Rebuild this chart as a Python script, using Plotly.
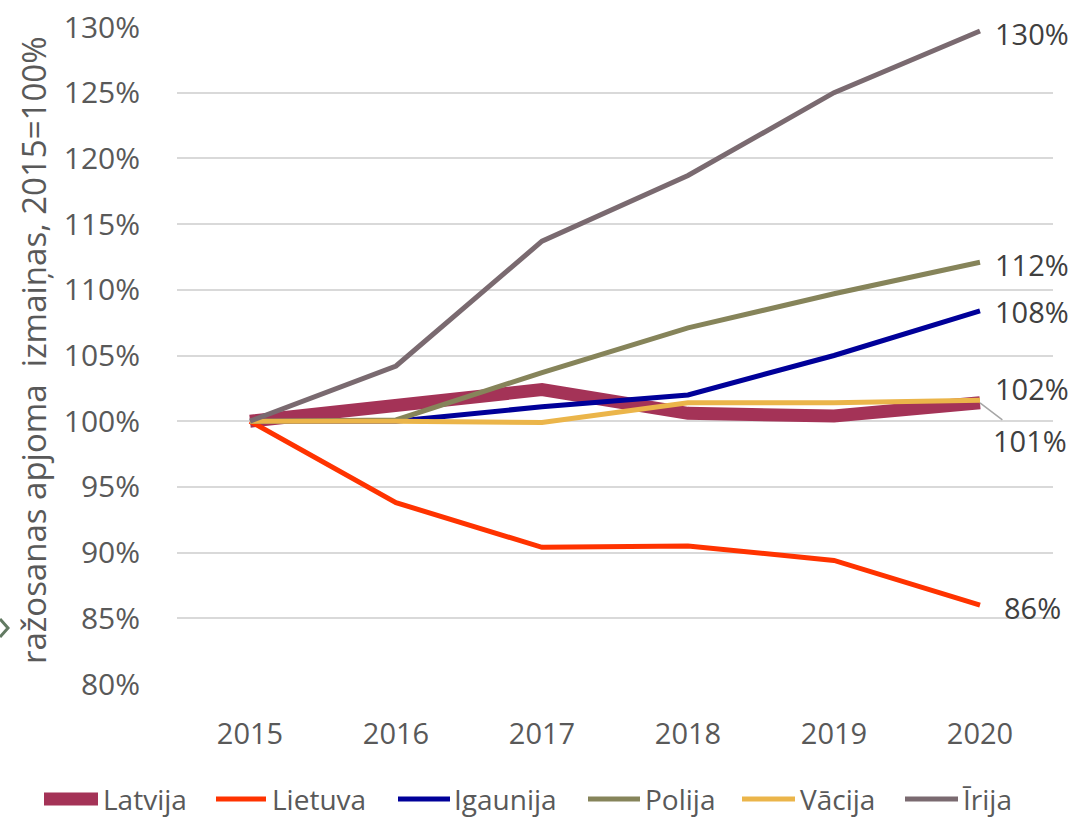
import plotly.graph_objects as go

years = ["2015", "2016", "2017", "2018", "2019", "2020"]
latvija = [100.0, 101.1, 102.4, 100.6, 100.4, 101.4]
lietuva = [100.0, 93.8, 90.4, 90.5, 89.4, 86.0]
igaunija = [100.0, 100.0, 101.1, 102.0, 105.0, 108.4]
polija = [100.0, 100.1, 103.7, 107.1, 109.7, 112.1]
vacija = [100.0, 100.0, 99.9, 101.4, 101.4, 101.6]
irija = [100.0, 104.2, 113.7, 118.7, 125.0, 129.7]

series = [
    ("Latvija", latvija, "#a43357", 13),
    ("Lietuva", lietuva, "#ff3300", 5),
    ("Igaunija", igaunija, "#000099", 5),
    ("Polija", polija, "#86845a", 5),
    ("Vācija", vacija, "#ebb54a", 5),
    ("Īrija", irija, "#7a6a70", 5),
]

FONT = "Open Sans"
ML, MR, MT, MB = 177, 28, 27, 135
W, H = 1081, 819
PW, PH = W - ML - MR, H - MT - MB


def px(x, y):
    """pixel -> paper coordinates (for decorations / legend layout)"""
    return (x - ML) / PW, (H - MB - y) / PH


fig = go.Figure()
for name, vals, color, w in series:
    fig.add_trace(go.Scatter(
        x=years, y=vals, name=name, mode="lines",
        line=dict(color=color, width=w),
        hoverinfo="skip", showlegend=False,
    ))

last = len(years) - 1
# end-of-line data labels
label_series = [(irija, -3), (polija, -2), (igaunija, -1), (vacija, 12), (lietuva, -2)]
for vals, ys in label_series:
    fig.add_annotation(x=last, y=vals[-1], text=f"{round(vals[-1])}%",
                       showarrow=False, xanchor="center", yanchor="middle",
                       xshift=52, yshift=ys,
                       font=dict(family=FONT, size=29, color="#404040"))
fig.add_annotation(x=last, y=latvija[-1], text=f"{round(latvija[-1])}%",
                   showarrow=True, arrowhead=0, arrowwidth=1.5, arrowcolor="#a6a6a6",
                   ax=50, ay=38, xanchor="center", yanchor="middle",
                   font=dict(family=FONT, size=29, color="#404040"))

# y axis title
tx, ty = px(33, 351)
fig.add_annotation(xref="paper", yref="paper", x=tx, y=ty,
                   text="ražosanas apjoma  izmaiņas, 2015=100%", textangle=-90,
                   showarrow=False, xanchor="center", yanchor="middle",
                   font=dict(family=FONT, size=33, color="#595959"))

# small chevron decoration at left edge
p1, p2, p3 = px(0, 619), px(8, 628), px(0, 637)
fig.add_shape(type="path", xref="paper", yref="paper",
              path=f"M{p1[0]},{p1[1]} L{p2[0]},{p2[1]} L{p3[0]},{p3[1]}",
              line=dict(color="#627a62", width=3))

# manual legend (symbol start/end x, text start x) in pixels
legend_pos = [(44, 98, 101), (216, 266, 270), (398, 450, 452),
              (588, 640, 643), (742, 795, 798), (905, 958, 960)]
LEG_Y = 799
for (name, vals, color, w), (x0, x1, xt) in zip(series, legend_pos):
    a, yy = px(x0, LEG_Y)
    b, _ = px(x1, LEG_Y)
    fig.add_shape(type="line", xref="paper", yref="paper", x0=a, x1=b, y0=yy, y1=yy,
                  line=dict(color=color, width=w))
    t, _ = px(xt, LEG_Y)
    fig.add_annotation(xref="paper", yref="paper", x=t, y=yy, text=name,
                       showarrow=False, xanchor="left", yanchor="middle",
                       font=dict(family=FONT, size=28, color="#595959"))

fig.update_layout(
    width=W, height=H,
    margin=dict(l=ML, r=MR, t=MT, b=MB),
    paper_bgcolor="white", plot_bgcolor="white",
    font=dict(family=FONT, color="#595959"),
    showlegend=False,
    xaxis=dict(type="category", range=[-0.5, 5.5], showgrid=False, zeroline=False,
               showline=False, ticks="", ticklabelstandoff=30, automargin=False,
               tickfont=dict(family=FONT, size=29, color="#595959")),
    yaxis=dict(range=[80, 130], dtick=5, tick0=80, ticksuffix="%",
               showgrid=True, gridcolor="#d9d9d9", gridwidth=1.5, zeroline=False,
               showline=False, ticks="", ticklabelstandoff=36, automargin=False,
               tickfont=dict(family=FONT, size=30, color="#595959")),
)

fig.write_html("out.html", config={"displayModeBar": False},
               post_script="document.body.style.margin='0';document.body.style.overflow='hidden';")
